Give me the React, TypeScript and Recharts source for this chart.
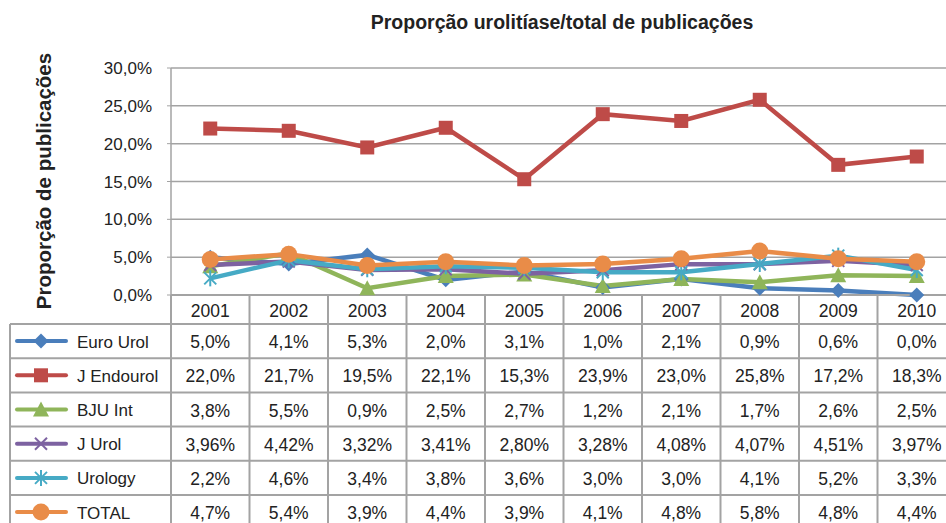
import React from "react";
import { LineChart, Line, XAxis, YAxis, CartesianGrid, Customized } from "recharts";

const years = ["2001", "2002", "2003", "2004", "2005", "2006", "2007", "2008", "2009", "2010"];
const euroUrol = [5.0, 4.1, 5.3, 2.0, 3.1, 1.0, 2.1, 0.9, 0.6, 0.0];
const jEndourol = [22.0, 21.7, 19.5, 22.1, 15.3, 23.9, 23.0, 25.8, 17.2, 18.3];
const bjuInt = [3.8, 5.5, 0.9, 2.5, 2.7, 1.2, 2.1, 1.7, 2.6, 2.5];
const jUrol = [3.96, 4.42, 3.32, 3.41, 2.8, 3.28, 4.08, 4.07, 4.51, 3.97];
const urology = [2.2, 4.6, 3.4, 3.8, 3.6, 3.0, 3.0, 4.1, 5.2, 3.3];
const total = [4.7, 5.4, 3.9, 4.4, 3.9, 4.1, 4.8, 5.8, 4.8, 4.4];
const yTicks = [0, 5, 10, 15, 20, 25, 30];

const series = [
  { key: "euroUrol", name: "Euro Urol", color: "#4a7ebb", values: euroUrol, decimals: 1, shape: "diamond" },
  { key: "jEndourol", name: "J Endourol", color: "#be4b48", values: jEndourol, decimals: 1, shape: "square" },
  { key: "bjuInt", name: "BJU Int", color: "#8fb55a", values: bjuInt, decimals: 1, shape: "triangle" },
  { key: "jUrol", name: "J Urol", color: "#7d62a1", values: jUrol, decimals: 2, shape: "x" },
  { key: "urology", name: "Urology", color: "#46aac5", values: urology, decimals: 1, shape: "star" },
  { key: "total", name: "TOTAL", color: "#e98c48", values: total, decimals: 1, shape: "circle" },
];

const data = years.map((year, i) => {
  const row: Record<string, any> = { year };
  series.forEach((s) => (row[s.key] = s.values[i]));
  return row;
});

const FONT = "'Liberation Sans', Arial, sans-serif";
const CHART_W = 960;
const CHART_H = 545;
const PLOT_LEFT = 171;
const PLOT_TOP = 68;
const AXIS_Y = 295;
const PLOT_W = 785;
const BAND = PLOT_W / years.length;
const HEADER_H = 29;
const ROW_H = 34.2;
const GRID = "#a3a3a3";

const fmt = (v: number, d: number) => v.toFixed(d).replace(".", ",") + "%";
const rowTop = (r: number) => AXIS_Y + HEADER_H + r * ROW_H;

function Marker({ shape, cx, cy, color }: { shape: string; cx: number; cy: number; color: string }) {
  switch (shape) {
    case "diamond":
      return <polygon points={`${cx},${cy - 7.5} ${cx + 7.5},${cy} ${cx},${cy + 7.5} ${cx - 7.5},${cy}`} fill={color} />;
    case "square":
      return <rect x={cx - 7} y={cy - 7} width={14} height={14} fill={color} />;
    case "triangle":
      return <polygon points={`${cx},${cy - 8} ${cx + 8},${cy + 7} ${cx - 8},${cy + 7}`} fill={color} />;
    case "x":
      return (
        <g stroke={color} strokeWidth={2}>
          <line x1={cx - 6} y1={cy - 6} x2={cx + 6} y2={cy + 6} />
          <line x1={cx - 6} y1={cy + 6} x2={cx + 6} y2={cy - 6} />
        </g>
      );
    case "star":
      return (
        <g stroke={color} strokeWidth={2}>
          <line x1={cx - 6} y1={cy - 6} x2={cx + 6} y2={cy + 6} />
          <line x1={cx - 6} y1={cy + 6} x2={cx + 6} y2={cy - 6} />
          <line x1={cx} y1={cy - 8} x2={cx} y2={cy + 8} />
        </g>
      );
    default:
      return <circle cx={cx} cy={cy} r={8.5} fill={color} />;
  }
}

function TableColumn(props: any) {
  const { x, payload } = props;
  const i = payload.index ?? props.index;
  const left = x - BAND / 2;
  const right = x + BAND / 2;
  return (
    <g fontFamily={FONT} fontSize={17.5} fill="#222">
      <line x1={left} x2={left} y1={AXIS_Y} y2={CHART_H} stroke={GRID} strokeWidth={2} />
      {i === years.length - 1 && <line x1={right} x2={right} y1={AXIS_Y} y2={CHART_H} stroke={GRID} strokeWidth={2} />}
      <text x={x} y={AXIS_Y + HEADER_H / 2 + 1} textAnchor="middle" dominantBaseline="central">
        {payload.value}
      </text>
      {series.map((s, r) => (
        <g key={s.key}>
          <line x1={left} x2={right} y1={rowTop(r)} y2={rowTop(r)} stroke={GRID} strokeWidth={2} />
          <text x={x} y={rowTop(r) + ROW_H / 2 + 1} textAnchor="middle" dominantBaseline="central">
            {fmt(s.values[i], s.decimals)}
          </text>
        </g>
      ))}
    </g>
  );
}

function Decorations() {
  return (
    <g fontFamily={FONT}>
      <text x={562} y={29} textAnchor="middle" fontSize={19.5} fontWeight="bold" fill="#222">
        Proporção urolitíase/total de publicações
      </text>
      <text
        x={51}
        y={181}
        transform="rotate(-90 51 181)"
        textAnchor="middle"
        fontSize={20.5}
        fontWeight="bold"
        fill="#222"
      >
        Proporção de publicações
      </text>
      <line x1={10} x2={10} y1={rowTop(0)} y2={CHART_H} stroke={GRID} strokeWidth={2} />
      <line x1={PLOT_LEFT} x2={PLOT_LEFT} y1={AXIS_Y} y2={CHART_H} stroke={GRID} strokeWidth={2} />
      {series.map((s, r) => {
        const cy = rowTop(r) + ROW_H / 2;
        return (
          <g key={s.key}>
            <line x1={10} x2={PLOT_LEFT} y1={rowTop(r)} y2={rowTop(r)} stroke={GRID} strokeWidth={2} />
            <line x1={17} x2={66} y1={cy} y2={cy} stroke={s.color} strokeWidth={4} strokeLinecap="round" />
            <Marker shape={s.shape} cx={41} cy={cy} color={s.color} />
            <text x={77} y={cy + 1} fontSize={17} fill="#222" dominantBaseline="central">
              {s.name}
            </text>
          </g>
        );
      })}
    </g>
  );
}

export default function App() {
  return (
    <div style={{ position: "fixed", left: 0, top: 0, width: 946, height: 523, overflow: "hidden", background: "#fff" }}>
      <LineChart
        width={CHART_W}
        height={CHART_H}
        data={data}
        margin={{ top: PLOT_TOP, right: CHART_W - PLOT_LEFT - PLOT_W, left: 0, bottom: 0 }}
      >
        <CartesianGrid vertical={false} stroke={GRID} strokeWidth={1.5} />
        <XAxis
          dataKey="year"
          height={CHART_H - AXIS_Y - 0}
          interval={0}
          tickSize={0}
          tickLine={false}
          padding={{ left: BAND / 2, right: BAND / 2 }}
          axisLine={{ stroke: GRID, strokeWidth: 2 }}
          tick={<TableColumn />}
        />
        <YAxis
          width={PLOT_LEFT}
          domain={[0, 30]}
          ticks={yTicks}
          interval={0}
          tickSize={4}
          tickMargin={15}
          axisLine={{ stroke: GRID, strokeWidth: 1.5 }}
          tickLine={{ stroke: GRID }}
          tickFormatter={(v: number) => v.toFixed(1).replace(".", ",") + "%"}
          tick={{ fontFamily: FONT, fontSize: 17, fill: "#222" }}
        />
        {series.map((s) => (
          <Line
            key={s.key}
            dataKey={s.key}
            name={s.name}
            stroke={s.color}
            strokeWidth={4.5}
            type="linear"
            isAnimationActive={false}
            dot={(p: any) => <Marker key={`${s.key}-${p.index}`} shape={s.shape} cx={p.cx} cy={p.cy} color={s.color} />}
            activeDot={false}
          />
        ))}
        <Customized component={Decorations} />
      </LineChart>
    </div>
  );
}
